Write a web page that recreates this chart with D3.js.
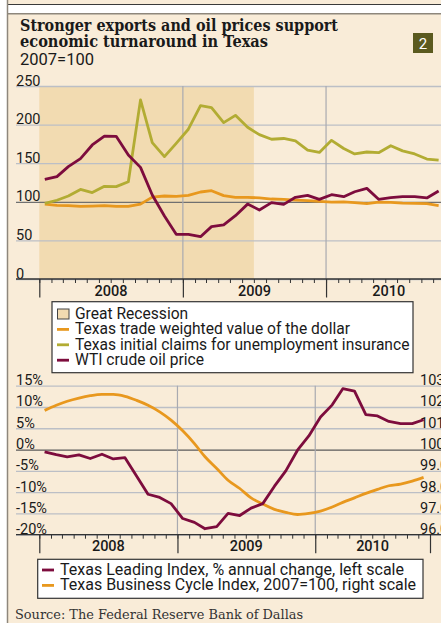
<!DOCTYPE html>
<html>
<head>
<meta charset="utf-8">
<script src="https://cdn.jsdelivr.net/npm/d3@7"></script>
<style>
  body { margin: 0; background: #fff; }
  svg { display: block; }
  text { font-family: Roboto, "Open Sans", sans-serif; fill: #1a1a1a; }
</style>
</head>
<body>
<div id="chart"></div>
<script>
// monthly points, Jan 2008 .. Oct 2010
const months = d3.range(34).map(i => new Date(2008, i, 15));
const yearLabels = ["2008", "2009", "2010"];

// top panel, 2007=100
const claims = [98, 102, 107.5, 116, 112, 120, 119.6, 126, 232, 176.6, 158.5, 175.7,
  194, 224.5, 222, 202.5, 212, 196.5, 187, 181, 182, 179, 167, 164,
  179.6, 169, 162, 164.5, 163.6, 172.7, 166, 162, 155.4, 154];
const oil = [129, 132.6, 145.5, 156, 173.6, 185, 184.8, 160.6, 144.6, 108.8, 81.6, 57.9,
  57.9, 54.8, 67.8, 70, 82, 97, 89.4, 98.9, 96.7, 105.8, 108.4, 103.2,
  109.2, 106.6, 113, 117.4, 103.2, 105.4, 106.6, 106.6, 105, 114];
const dollar = [97, 95.4, 95, 94, 94.5, 95, 94, 94, 97, 106, 107.5, 107,
  108.4, 112.7, 114.4, 108, 105.8, 105.8, 105, 103.6, 103.2, 102.3, 101.5, 100.6,
  99.7, 100, 99, 97.6, 99.7, 99.3, 98.4, 98, 97.6, 95];
const topTicks = [0, 50, 100, 150, 200, 250];
const recession = [new Date(2008, 0, 1), new Date(2009, 6, 1)];

// bottom panel
const leading = [-0.55, -1.2, -1.7, -1.25, -2.1, -1.1, -2.2, -1.9, -6.25, -10.5, -11.25, -12.7,
  -16.2, -17.1, -18.6, -18.1, -15, -15.5, -13.75, -12.7, -8.6, -5, -0.15, 3.2,
  7.65, 10.5, 14.3, 13.75, 8.2, 7.9, 6.6, 6.1, 6.1, 7.0];
const cycle = [101.84, 102.08, 102.27, 102.42, 102.53, 102.59, 102.59, 102.5, 102.31, 102.08, 101.77, 101.38,
  100.88, 100.28, 99.66, 99.11, 98.56, 98.17, 97.73, 97.44, 97.19, 97.05, 96.95, 97.0,
  97.11, 97.3, 97.52, 97.73, 97.94, 98.13, 98.30, 98.38, 98.52, 98.69];
const leftTicks = [-20, -15, -10, -5, 0, 5, 10, 15];
const rightTicks = [96, 97, 98, 99, 100, 101, 102, 103];

const legendTop = [
  { label: "Great Recession", type: "box" },
  { label: "Texas trade weighted value of the dollar", color: "#e8981e" },
  { label: "Texas initial claims for unemployment insurance", color: "#b2ac33" },
  { label: "WTI crude oil price", color: "#7d0c3d" }
];
const legendBottom = [
  { label: "Texas Leading Index, % annual change, left scale", color: "#7d0c3d" },
  { label: "Texas Business Cycle Index, 2007=100, right scale", color: "#e8981e" }
];

const W = 441, H = 623;
const cream = "#f9ecd8", shade = "#f2dbb1", grid = "#bcbfc6";

const svg = d3.select("#chart").append("svg")
  .attr("width", W).attr("height", H);

// frame
svg.append("rect").attr("x", 8).attr("y", 0).attr("width", W).attr("height", 5).attr("fill", cream);
svg.append("rect").attr("x", 8).attr("y", 5).attr("width", W).attr("height", 9).attr("fill", "#fff");
svg.append("line").attr("x1", 8).attr("x2", W).attr("y1", 4.5).attr("y2", 4.5).attr("stroke", "#3a3a3a");
svg.append("rect").attr("x", 8).attr("y", 14).attr("width", W).attr("height", H).attr("fill", cream);
svg.append("line").attr("x1", 8).attr("x2", W).attr("y1", 13.8).attr("y2", 13.8)
  .attr("stroke", "#8e877c").attr("stroke-width", 1.5);
svg.append("line").attr("x1", 7.5).attr("x2", 7.5).attr("y1", 0).attr("y2", H)
  .attr("stroke", "#8e877c").attr("stroke-width", 1.5);

// title
svg.append("text").attr("x", 20).attr("y", 31)
  .style("font-family", "'DejaVu Serif', serif").style("font-weight", "bold").style("font-size", "16.5px")
  .attr("textLength", 318).attr("lengthAdjust", "spacingAndGlyphs")
  .text("Stronger exports and oil prices support");
svg.append("text").attr("x", 20).attr("y", 47)
  .style("font-family", "'DejaVu Serif', serif").style("font-weight", "bold").style("font-size", "16.5px")
  .attr("textLength", 248).attr("lengthAdjust", "spacingAndGlyphs")
  .text("economic turnaround in Texas");
svg.append("text").attr("x", 20).attr("y", 64.5).style("font-size", "16.5px").text("2007=100");

svg.append("rect").attr("x", 413).attr("y", 33).attr("width", 20).attr("height", 20).attr("fill", "#5b5a1f");
svg.append("text").attr("x", 423).attr("y", 48.5).attr("text-anchor", "middle")
  .style("font-size", "15px").style("fill", "#fff").text("2");

// ---------- top panel ----------
const xTop = d3.scaleTime().domain([new Date(2008, 0, 1), new Date(2010, 10, 1)]).range([39.3, 445.3]);
const yTop = d3.scaleLinear().domain([0, 250]).range([279, 86]);

svg.append("rect")
  .attr("x", xTop(recession[0])).attr("y", yTop(250))
  .attr("width", xTop(recession[1]) - xTop(recession[0]))
  .attr("height", yTop(0) - yTop(250))
  .attr("fill", shade);

const gTopY = svg.append("g").attr("transform", "translate(16,0)")
  .call(d3.axisRight(yTop).tickValues(topTicks).tickSize(W - 16));
gTopY.select(".domain").remove();
gTopY.selectAll("line").attr("stroke", d => d === 100 ? "#707070" : grid).attr("stroke-width", 1.3);
gTopY.selectAll("text").attr("x", 0).attr("dy", -1).attr("text-anchor", "start")
  .style("font-size", "14.5px").style("font-family", "Roboto, sans-serif").attr("fill", "#1a1a1a");

function timeAxis(x, yAxis, top, endDate) {
  const years = [new Date(2009, 0, 1), new Date(2010, 0, 1)];
  svg.selectAll(null).data(years).enter().append("line")
    .attr("x1", d => x(d)).attr("x2", d => x(d))
    .attr("y1", top).attr("y2", yAxis)
    .attr("stroke", "#a9aab0").attr("stroke-width", 1.2);

  const minor = svg.append("g").attr("transform", `translate(0,${yAxis})`)
    .call(d3.axisBottom(x).ticks(d3.timeMonth.every(1)).tickSize(4).tickFormat(""));
  minor.select(".domain").remove();
  minor.selectAll("line").attr("stroke", "#333");

  const major = svg.append("g").attr("transform", `translate(0,${yAxis})`)
    .call(d3.axisBottom(x).tickValues([new Date(2008, 0, 1), ...years].concat(endDate ? [endDate] : []))
      .tickSize(18.5).tickFormat(""));
  major.select(".domain").remove();
  major.selectAll("line").attr("stroke", "#333").attr("stroke-width", 1.2);

  svg.append("line").attr("x1", 16).attr("x2", W).attr("y1", yAxis).attr("y2", yAxis)
    .attr("stroke", "#333").attr("stroke-width", 1.3);

  const edges = [new Date(2008, 0, 1), new Date(2009, 0, 1), new Date(2010, 0, 1), new Date(2010, 10, 1)];
  svg.selectAll(null).data(yearLabels).enter().append("text")
    .attr("x", (d, i) => (x(edges[i]) + Math.min(x(edges[i + 1]), endDate ? x(endDate) : 1e9)) / 2 + (i === 2 && !endDate ? 3 : 0))
    .attr("y", yAxis + 16.5)
    .attr("text-anchor", "middle")
    .style("font-size", "14.5px").style("font-weight", 500)
    .text(d => d);
}
timeAxis(xTop, 279, 86, null);

const lineTop = data => d3.line().x((d, i) => xTop(months[i])).y(d => yTop(d))(data);
[[dollar, "#e8981e"], [claims, "#b2ac33"], [oil, "#7d0c3d"]].forEach(([data, color]) => {
  svg.append("path").attr("d", lineTop(data)).attr("fill", "none")
    .attr("stroke", color).attr("stroke-width", 2.8).attr("stroke-linejoin", "round");
});

// legends
function legend(items, x0, y0, w, h, tx, firstBase, fs) {
  svg.append("rect").attr("x", x0).attr("y", y0).attr("width", w).attr("height", h)
    .attr("fill", "#fff").attr("stroke", "#333").attr("stroke-width", 1.2);
  items.forEach((it, i) => {
    const base = firstBase + i * 15.4;
    if (it.type === "box") {
      svg.append("rect").attr("x", tx - 17.5).attr("y", base - 10).attr("width", 11.5).attr("height", 10)
        .attr("fill", shade).attr("stroke", "#444").attr("stroke-width", 1);
    } else {
      svg.append("line").attr("x1", tx - 18).attr("x2", tx - 6).attr("y1", base - 5).attr("y2", base - 5)
        .attr("stroke", it.color).attr("stroke-width", 2.8);
    }
    svg.append("text").attr("x", tx).attr("y", base).style("font-size", fs + "px").text(it.label);
  });
}
legend(legendTop, 52, 301.7, 361, 71, 75, 319, 15.6);

// ---------- bottom panel ----------
const xBot = d3.scaleTime().domain([new Date(2008, 0, 1), new Date(2010, 10, 1)]).range([39.3, 430]);
const yL = d3.scaleLinear().domain([-20, 15]).range([534.7, 385.7]);
const yR = d3.scaleLinear().domain([96, 103]).range([534.7, 385.7]);

const gL = svg.append("g").attr("transform", "translate(16,0)")
  .call(d3.axisRight(yL).tickValues(leftTicks).tickSize(W - 16).tickFormat(d => d + "%"));
gL.select(".domain").remove();
gL.selectAll("line").attr("stroke", d => d === 0 ? "#5a5a5a" : grid).attr("stroke-width", 1.3);
gL.selectAll("text").attr("x", 0).attr("dy", -1).attr("text-anchor", "start")
  .style("font-size", "14.5px").attr("fill", "#1a1a1a");

const gR = svg.append("g").attr("transform", "translate(420,0)")
  .call(d3.axisRight(yR).tickValues(rightTicks).tickSize(0));
gR.select(".domain").remove();
gR.selectAll("text").attr("x", 0).attr("dy", -1).attr("text-anchor", "start")
  .style("font-size", "14.5px").attr("fill", "#1a1a1a");

timeAxis(xBot, 534.7, 385.7, new Date(2010, 10, 1));

svg.append("path").attr("d", d3.line().x((d, i) => xBot(months[i])).y(d => yR(d)).curve(d3.curveMonotoneX)(cycle))
  .attr("fill", "none").attr("stroke", "#e8981e").attr("stroke-width", 2.8);
svg.append("path").attr("d", d3.line().x((d, i) => xBot(months[i])).y(d => yL(d))(leading))
  .attr("fill", "none").attr("stroke", "#7d0c3d").attr("stroke-width", 2.8).attr("stroke-linejoin", "round");

legend(legendBottom, 37.7, 559.3, 385.3, 39, 60, 575, 16);

// source
svg.append("text").attr("x", 15).attr("y", 619)
  .style("font-family", "'DejaVu Serif', serif").style("font-size", "12.9px").style("fill", "#333")
  .text("Source: The Federal Reserve Bank of Dallas");
</script>
</body>
</html>
